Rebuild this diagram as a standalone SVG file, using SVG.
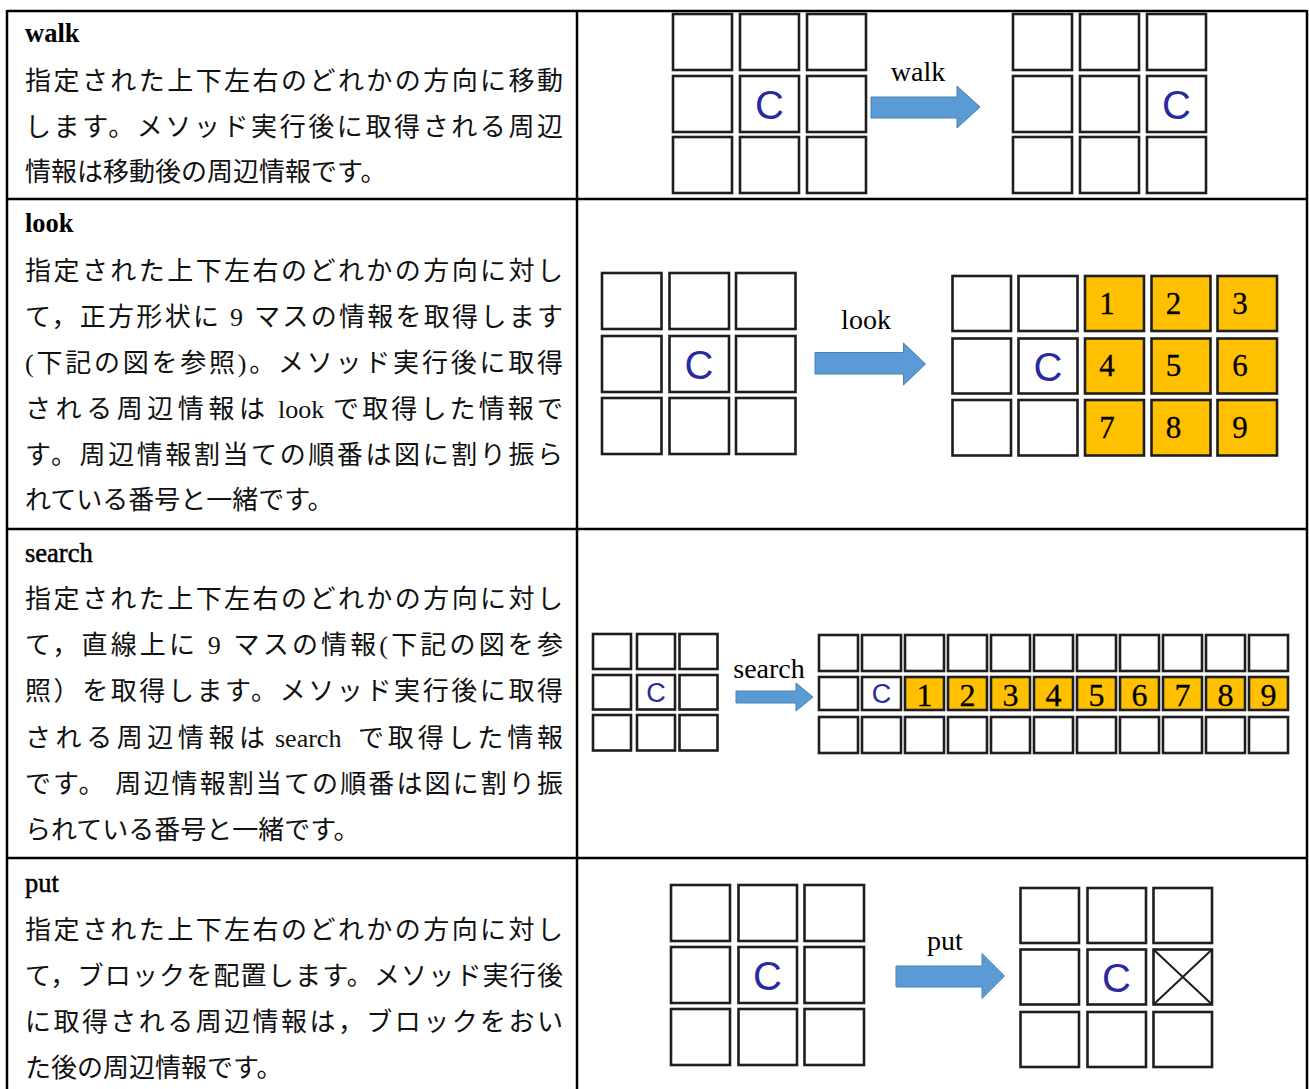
<svg xmlns="http://www.w3.org/2000/svg" width="1309" height="1089" viewBox="0 0 1309 1089">
<style>
.tbl{fill:none;stroke:#000;stroke-width:2.5}
.cell{fill:#fff;stroke:#1e1e1e;stroke-width:2.6}
.ycell{fill:#ffc000;stroke:#1e1e1e;stroke-width:2.6}
.body{font-family:"Liberation Serif","Noto Sans CJK JP",serif;font-size:26px;fill:#111}
.title{font-family:"Liberation Serif","Noto Sans CJK JP",serif;font-size:26.5px;fill:#000}
.lbl{font-family:"Liberation Serif",serif;font-size:28px;fill:#000;text-anchor:middle}
.c{font-family:"Liberation Sans",Arial,sans-serif;fill:#2a2aa0;text-anchor:middle}
.num{font-family:"Liberation Serif",serif;fill:#000;text-anchor:middle}
.arrow{fill:#5b9bd5;stroke:#4a80b4;stroke-width:1}
</style>
<rect x="0" y="0" width="1309" height="1089" fill="#fff"/>
<g id="table">
<line class="tbl" x1="7" y1="11" x2="1307" y2="11"/>
<line class="tbl" x1="7" y1="199" x2="1307" y2="199"/>
<line class="tbl" x1="7" y1="529" x2="1307" y2="529"/>
<line class="tbl" x1="7" y1="858" x2="1307" y2="858"/>
<line class="tbl" x1="7" y1="10" x2="7" y2="1089"/>
<line class="tbl" x1="577" y1="10" x2="577" y2="1089"/>
<line class="tbl" x1="1307" y1="10" x2="1307" y2="1089"/>
</g>
<g id="walk-text">
<text class="title" x="25" y="42" font-weight="bold">walk</text>
<text class="body" x="25" y="90" textLength="538" lengthAdjust="spacing">指定された上下左右のどれかの方向に移動</text>
<text class="body" x="25" y="136" textLength="538" lengthAdjust="spacing">します。メソッド実行後に取得される周辺</text>
<text class="body" x="25" y="181">情報は移動後の周辺情報です。</text>
</g>
<g id="look-text">
<text class="title" x="25" y="232" font-weight="bold">look</text>
<text class="body" x="25" y="280" textLength="538" lengthAdjust="spacing">指定された上下左右のどれかの方向に対し</text>
<text class="body" x="25" y="326" textLength="538" lengthAdjust="spacing">て，正方形状に 9 マスの情報を取得します</text>
<text class="body" x="25" y="372" textLength="538" lengthAdjust="spacing">(下記の図を参照)。メソッド実行後に取得</text>
<text class="body" x="25" y="418" textLength="240" lengthAdjust="spacing">される周辺情報は</text>
<text class="body" x="278" y="418">look</text>
<text class="body" x="333" y="418" textLength="230" lengthAdjust="spacing">で取得した情報で</text>
<text class="body" x="25" y="464" textLength="538" lengthAdjust="spacing">す。周辺情報割当ての順番は図に割り振ら</text>
<text class="body" x="25" y="509">れている番号と一緒です。</text>
</g>
<g id="search-text">
<text class="title" x="25" y="562" stroke="#000" stroke-width="0.5">search</text>
<text class="body" x="25" y="608" textLength="538" lengthAdjust="spacing">指定された上下左右のどれかの方向に対し</text>
<text class="body" x="25" y="654" textLength="538" lengthAdjust="spacing">て，直線上に 9 マスの情報(下記の図を参</text>
<text class="body" x="25" y="700" textLength="538" lengthAdjust="spacing">照）を取得します。メソッド実行後に取得</text>
<text class="body" x="25" y="747" textLength="240" lengthAdjust="spacing">される周辺情報は</text>
<text class="body" x="275" y="747" font-size="27">search</text>
<text class="body" x="358" y="747" textLength="205" lengthAdjust="spacing">で取得した情報</text>
<text class="body" x="25" y="793" textLength="538" lengthAdjust="spacing">です。 周辺情報割当ての順番は図に割り振</text>
<text class="body" x="25" y="839">られている番号と一緒です。</text>
</g>
<g id="put-text">
<text class="title" x="25" y="892" stroke="#000" stroke-width="0.5">put</text>
<text class="body" x="25" y="939" textLength="538" lengthAdjust="spacing">指定された上下左右のどれかの方向に対し</text>
<text class="body" x="25" y="985" textLength="538" lengthAdjust="spacing">て，ブロックを配置します。メソッド実行後</text>
<text class="body" x="25" y="1031" textLength="538" lengthAdjust="spacing">に取得される周辺情報は，ブロックをおい</text>
<text class="body" x="25" y="1077">た後の周辺情報です。</text>
</g>

<g id="walk-before">
<rect class="cell" x="673" y="14" width="59" height="56"/><rect class="cell" x="740" y="14" width="59" height="56"/><rect class="cell" x="807" y="14" width="59" height="56"/>
<rect class="cell" x="673" y="76" width="59" height="56"/><rect class="cell" x="740" y="76" width="59" height="56"/><rect class="cell" x="807" y="76" width="59" height="56"/>
<rect class="cell" x="673" y="137" width="59" height="56"/><rect class="cell" x="740" y="137" width="59" height="56"/><rect class="cell" x="807" y="137" width="59" height="56"/>
<text class="c" x="769.5" y="119" font-size="40">C</text>
</g>
<g id="walk-after">
<rect class="cell" x="1013" y="14" width="59" height="56"/><rect class="cell" x="1080" y="14" width="59" height="56"/><rect class="cell" x="1147" y="14" width="59" height="56"/>
<rect class="cell" x="1013" y="76" width="59" height="56"/><rect class="cell" x="1080" y="76" width="59" height="56"/><rect class="cell" x="1147" y="76" width="59" height="56"/>
<rect class="cell" x="1013" y="137" width="59" height="56"/><rect class="cell" x="1080" y="137" width="59" height="56"/><rect class="cell" x="1147" y="137" width="59" height="56"/>
<text class="c" x="1176.5" y="119" font-size="40">C</text>
</g>

<g id="look-before">
<rect class="cell" x="602" y="273" width="59.5" height="56"/><rect class="cell" x="669.5" y="273" width="59.5" height="56"/><rect class="cell" x="736" y="273" width="59.5" height="56"/>
<rect class="cell" x="602" y="336" width="59.5" height="56"/><rect class="cell" x="669.5" y="336" width="59.5" height="56"/><rect class="cell" x="736" y="336" width="59.5" height="56"/>
<rect class="cell" x="602" y="398" width="59.5" height="56"/><rect class="cell" x="669.5" y="398" width="59.5" height="56"/><rect class="cell" x="736" y="398" width="59.5" height="56"/>
<text class="c" x="699" y="379" font-size="40">C</text>
</g>
<g id="look-after">
<rect class="cell" x="952.5" y="276" width="58.5" height="55"/><rect class="cell" x="1018.5" y="276" width="59" height="55"/><rect class="ycell" x="1085" y="276" width="59" height="55"/><rect class="ycell" x="1151.5" y="276" width="59" height="55"/><rect class="ycell" x="1217.5" y="276" width="59.5" height="55"/>
<rect class="cell" x="952.5" y="338.5" width="58.5" height="55"/><rect class="cell" x="1018.5" y="338.5" width="59" height="55"/><rect class="ycell" x="1085" y="338.5" width="59" height="55"/><rect class="ycell" x="1151.5" y="338.5" width="59" height="55"/><rect class="ycell" x="1217.5" y="338.5" width="59.5" height="55"/>
<rect class="cell" x="952.5" y="400" width="58.5" height="55.5"/><rect class="cell" x="1018.5" y="400" width="59" height="55.5"/><rect class="ycell" x="1085" y="400" width="59" height="55.5"/><rect class="ycell" x="1151.5" y="400" width="59" height="55.5"/><rect class="ycell" x="1217.5" y="400" width="59.5" height="55.5"/>
<text class="c" x="1048" y="381" font-size="40">C</text>
<g font-size="31" stroke="#000" stroke-width="0.3">
<text class="num" x="1107" y="314">1</text><text class="num" x="1173.5" y="314">2</text><text class="num" x="1240" y="314">3</text>
<text class="num" x="1107" y="376">4</text><text class="num" x="1173.5" y="376">5</text><text class="num" x="1240" y="376">6</text>
<text class="num" x="1107" y="438">7</text><text class="num" x="1173.5" y="438">8</text><text class="num" x="1240" y="438">9</text>
</g>
</g>

<g id="search-before">
<rect class="cell" x="593" y="634" width="38" height="35"/><rect class="cell" x="637" y="634" width="38" height="35"/><rect class="cell" x="679.5" y="634" width="38" height="35"/>
<rect class="cell" x="593" y="675" width="38" height="34.5"/><rect class="cell" x="637" y="675" width="38" height="34.5"/><rect class="cell" x="679.5" y="675" width="38" height="34.5"/>
<rect class="cell" x="593" y="715" width="38" height="35.5"/><rect class="cell" x="637" y="715" width="38" height="35.5"/><rect class="cell" x="679.5" y="715" width="38" height="35.5"/>
<text class="c" x="656" y="702" font-size="27">C</text>
</g>
<g id="search-after">
<g>
<rect class="cell" x="819" y="635" width="39" height="36"/><rect class="cell" x="862" y="635" width="39" height="36"/><rect class="cell" x="905" y="635" width="39" height="36"/><rect class="cell" x="948" y="635" width="39" height="36"/><rect class="cell" x="991" y="635" width="39" height="36"/><rect class="cell" x="1034" y="635" width="39" height="36"/><rect class="cell" x="1077" y="635" width="39" height="36"/><rect class="cell" x="1120" y="635" width="39" height="36"/><rect class="cell" x="1163" y="635" width="39" height="36"/><rect class="cell" x="1206" y="635" width="39" height="36"/><rect class="cell" x="1249" y="635" width="39" height="36"/>
</g>
<g>
<rect class="cell" x="819" y="677" width="39" height="33"/><rect class="cell" x="862" y="677" width="39" height="33"/><rect class="ycell" x="905" y="677" width="39" height="33"/><rect class="ycell" x="948" y="677" width="39" height="33"/><rect class="ycell" x="991" y="677" width="39" height="33"/><rect class="ycell" x="1034" y="677" width="39" height="33"/><rect class="ycell" x="1077" y="677" width="39" height="33"/><rect class="ycell" x="1120" y="677" width="39" height="33"/><rect class="ycell" x="1163" y="677" width="39" height="33"/><rect class="ycell" x="1206" y="677" width="39" height="33"/><rect class="ycell" x="1249" y="677" width="39" height="33"/>
</g>
<g>
<rect class="cell" x="819" y="717" width="39" height="36"/><rect class="cell" x="862" y="717" width="39" height="36"/><rect class="cell" x="905" y="717" width="39" height="36"/><rect class="cell" x="948" y="717" width="39" height="36"/><rect class="cell" x="991" y="717" width="39" height="36"/><rect class="cell" x="1034" y="717" width="39" height="36"/><rect class="cell" x="1077" y="717" width="39" height="36"/><rect class="cell" x="1120" y="717" width="39" height="36"/><rect class="cell" x="1163" y="717" width="39" height="36"/><rect class="cell" x="1206" y="717" width="39" height="36"/><rect class="cell" x="1249" y="717" width="39" height="36"/>
</g>
<text class="c" x="881.5" y="703" font-size="27">C</text>
<g font-size="32" stroke="#000" stroke-width="0.3">
<text class="num" x="924.5" y="706">1</text><text class="num" x="967.5" y="706">2</text><text class="num" x="1010.5" y="706">3</text><text class="num" x="1053.5" y="706">4</text><text class="num" x="1096.5" y="706">5</text><text class="num" x="1139.5" y="706">6</text><text class="num" x="1182.5" y="706">7</text><text class="num" x="1225.5" y="706">8</text><text class="num" x="1268.5" y="706">9</text>
</g>
</g>

<g id="put-before">
<rect class="cell" x="671" y="885" width="59" height="56"/><rect class="cell" x="738.5" y="885" width="58.5" height="56"/><rect class="cell" x="804.5" y="885" width="59.5" height="56"/>
<rect class="cell" x="671" y="947" width="59" height="56"/><rect class="cell" x="738.5" y="947" width="58.5" height="56"/><rect class="cell" x="804.5" y="947" width="59.5" height="56"/>
<rect class="cell" x="671" y="1009" width="59" height="56"/><rect class="cell" x="738.5" y="1009" width="58.5" height="56"/><rect class="cell" x="804.5" y="1009" width="59.5" height="56"/>
<text class="c" x="767.5" y="990" font-size="40">C</text>
</g>
<g id="put-after">
<rect class="cell" x="1020.5" y="888" width="58.5" height="55"/><rect class="cell" x="1087.5" y="888" width="58.5" height="55"/><rect class="cell" x="1153.5" y="888" width="58.5" height="55"/>
<rect class="cell" x="1020.5" y="949.5" width="58.5" height="55"/><rect class="cell" x="1087.5" y="949.5" width="58.5" height="55"/><rect class="cell" x="1153.5" y="949.5" width="58.5" height="55"/>
<rect class="cell" x="1020.5" y="1012" width="58.5" height="55"/><rect class="cell" x="1087.5" y="1012" width="58.5" height="55"/><rect class="cell" x="1153.5" y="1012" width="58.5" height="55"/>
<path d="M1153.5 949.5 L1212 1004.5 M1212 949.5 L1153.5 1004.5" stroke="#1e1e1e" stroke-width="2"/>
<text class="c" x="1116.5" y="992" font-size="40">C</text>
</g>

<g id="connectors">
<polygon class="arrow" points="871,97 957,97 957,86 980,107 957,128 957,118 871,118"/>
<polygon class="arrow" points="815,352.5 903.5,352.5 903.5,343 925.5,364 903.5,385 903.5,374 815,374"/>
<polygon class="arrow" points="736,691 796,691 796,683 813,697 796,711 796,703 736,703"/>
<polygon class="arrow" points="896,966 982,966 982,953.5 1004.5,976 982,998.5 982,987 896,987"/>
<text class="lbl" x="918" y="81">walk</text>
<text class="lbl" x="866" y="329">look</text>
<text class="lbl" x="769" y="678">search</text>
<text class="lbl" x="945" y="950">put</text>
</g>
</svg>
